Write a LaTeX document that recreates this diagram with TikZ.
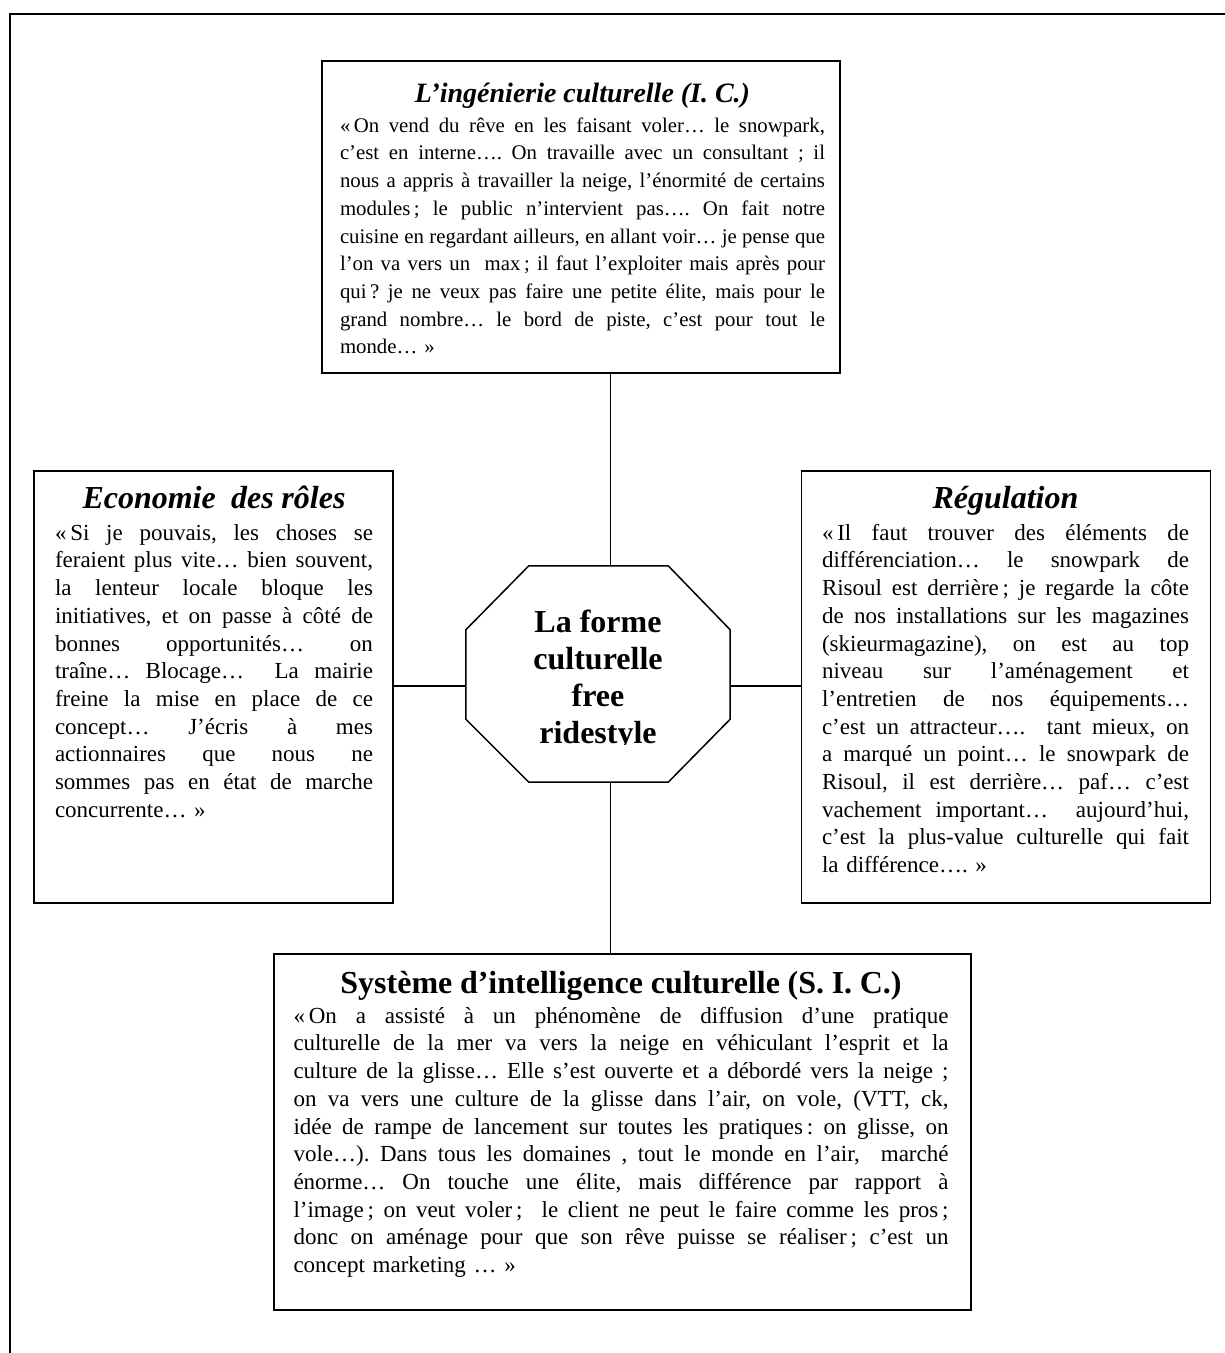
\documentclass[tikz,border=0pt]{standalone}
\usepackage{fontspec}
\setmainfont{Liberation Serif}
\usetikzlibrary{calc}
\newlength\bw
\newcommand\justln[1]{\leavevmode\hbox to \bw{\frenchspacing\spaceskip=.25em plus 1fil minus .08em\xspaceskip=\spaceskip #1}\\}
\newcommand\lastln[1]{\leavevmode\hbox to \bw{\frenchspacing #1\hfil}}
\begin{document}
\begin{tikzpicture}[x=1pt,y=-1pt,
  box/.style={draw, line width=1.5pt, inner sep=0pt},
  conn/.style={line width=1.2pt},
  frameline/.style={line width=2pt},
  txt/.style={anchor=north, inner sep=0pt, align=center},
  bodyA/.style={font=\fontsize{20.8}{27.7}\selectfont},
  bodyB/.style={font=\fontsize{23}{27.7}\selectfont},
  octtxt/.style={anchor=north, inner sep=0pt, align=center, font=\fontsize{32}{37}\selectfont\bfseries}]
\useasboundingbox (0,0) rectangle (1225,1353);

% outer frame (top and left sides only)
\coordinate (fc) at (10,14);
\coordinate (fr) at (1226,14);
\coordinate (fb) at (10,1354);
\draw[frameline] (fr) -- (fc) -- (fb);

% boxes
\node[box, minimum width=518pt, minimum height=312pt] (top) at (581,217) {};
\node[box, minimum width=359pt, minimum height=432pt] (left) at (213.5,687) {};
\node[box, minimum width=409pt, minimum height=432pt] (right) at (1006.2,687) {};
\node[box, minimum width=697pt, minimum height=356pt] (bot) at (622.5,1132) {};

% octagon
\node[minimum width=264pt, minimum height=216pt, inner sep=0pt] (oct) at (598,674) {};
\draw[line width=1.5pt]
  ($(oct.north west)+(63,0)$) -- ($(oct.north east)+(-62,0)$) --
  ($(oct.north east)+(0,64)$) -- ($(oct.south east)+(0,-63)$) --
  ($(oct.south east)+(-62,0)$) -- ($(oct.south west)+(63,0)$) --
  ($(oct.south west)+(0,-63)$) -- ($(oct.north west)+(0,64)$) -- cycle;

% connectors
\coordinate (vx) at (610.7,0);
\coordinate (hy) at (0,686);
\draw[conn] (top.south -| vx) -- (oct.north -| vx);
\draw[conn] (oct.south -| vx) -- (bot.north -| vx);
\draw[conn] (left.east |- hy) -- (oct.west |- hy);
\draw[conn] (oct.east |- hy) -- (right.west |- hy);

% octagon text (last line clipped at its baseline)
\begin{scope}
\clip (460,560) rectangle (740,744.5);
\node[octtxt] (octtext) at (598,607.7) {\rule{0pt}{25pt}La forme\\culturelle\\free\\ridestyle};
\end{scope}

% top box text
\node[txt, bodyA, text width=485pt] (toptext) at (582.5,77) {\setlength\bw{485pt}%
{\fontsize{28}{34}\selectfont\bfseries\itshape\rule{0pt}{25pt}L’ingénierie culturelle (I. C.)}\\[2.3pt]
\justln{«\,On vend du rêve en les faisant voler… le snowpark,}
\justln{c’est en interne…. On travaille avec un consultant ; il}
\justln{nous a appris à travailler la neige, l’énormité de certains}
\justln{modules\,; le public n’intervient pas…. On fait notre}
\justln{cuisine en regardant ailleurs, en allant voir… je pense que}
\justln{l’on va vers un \ max\,; il faut l’exploiter mais après pour}
\justln{qui\,? je ne veux pas faire une petite élite, mais pour le}
\justln{grand nombre… le bord de piste, c’est pour tout le}
\lastln{monde… »}};

% left box text
\node[txt, bodyB, text width=318pt] (lefttext) at (214,483) {\setlength\bw{318pt}%
{\fontsize{32}{38}\selectfont\bfseries\itshape\rule{0pt}{25pt}Economie \ des rôles}\\[4.3pt]
\justln{«\,Si je pouvais, les choses se}
\justln{feraient plus vite… bien souvent,}
\justln{la lenteur locale bloque les}
\justln{initiatives, et on passe à côté de}
\justln{bonnes opportunités… on}
\justln{traîne… Blocage… \ La mairie}
\justln{freine la mise en place de ce}
\justln{concept… J’écris à mes}
\justln{actionnaires que nous ne}
\justln{sommes pas en état de marche}
\lastln{concurrente… »}};

% right box text
\node[txt, bodyB, text width=367pt] (righttext) at (1005.5,483) {\setlength\bw{367pt}%
{\fontsize{32}{38}\selectfont\bfseries\itshape\rule{0pt}{25pt}Régulation}\\[4.3pt]
\justln{«\,Il faut trouver des éléments de}
\justln{différenciation… le snowpark de}
\justln{Risoul est derrière\,; je regarde la côte}
\justln{de nos installations sur les magazines}
\justln{(skieurmagazine), on est au top}
\justln{niveau sur l’aménagement et}
\justln{l’entretien de nos équipements…}
\justln{c’est un attracteur…. \ tant mieux, on}
\justln{a marqué un point… le snowpark de}
\justln{Risoul, il est derrière… paf… c’est}
\justln{vachement important… \ aujourd’hui,}
\justln{c’est la plus-value culturelle qui fait}
\lastln{la différence…. »}};

% bottom box text
\node[txt, bodyB, text width=655pt] (bottext) at (621,968) {\setlength\bw{655pt}%
{\fontsize{32}{38}\selectfont\bfseries\rule{0pt}{25pt}Système d’intelligence culturelle (S. I. C.)}\\[2.3pt]
\justln{«\,On a assisté à un phénomène de diffusion d’une pratique}
\justln{culturelle de la mer va vers la neige en véhiculant l’esprit et la}
\justln{culture de la glisse… Elle s’est ouverte et a débordé vers la neige ;}
\justln{on va vers une culture de la glisse dans l’air, on vole, (VTT, ck,}
\justln{idée de rampe de lancement sur toutes les pratiques\,: on glisse, on}
\justln{vole…). Dans tous les domaines , tout le monde en l’air, \ marché}
\justln{énorme… On touche une élite, mais différence par rapport à}
\justln{l’image\,; on veut voler\,; \ le client ne peut le faire comme les pros\,;}
\justln{donc on aménage pour que son rêve puisse se réaliser\,; c’est un}
\lastln{concept marketing … »}};
\end{tikzpicture}
\end{document}
